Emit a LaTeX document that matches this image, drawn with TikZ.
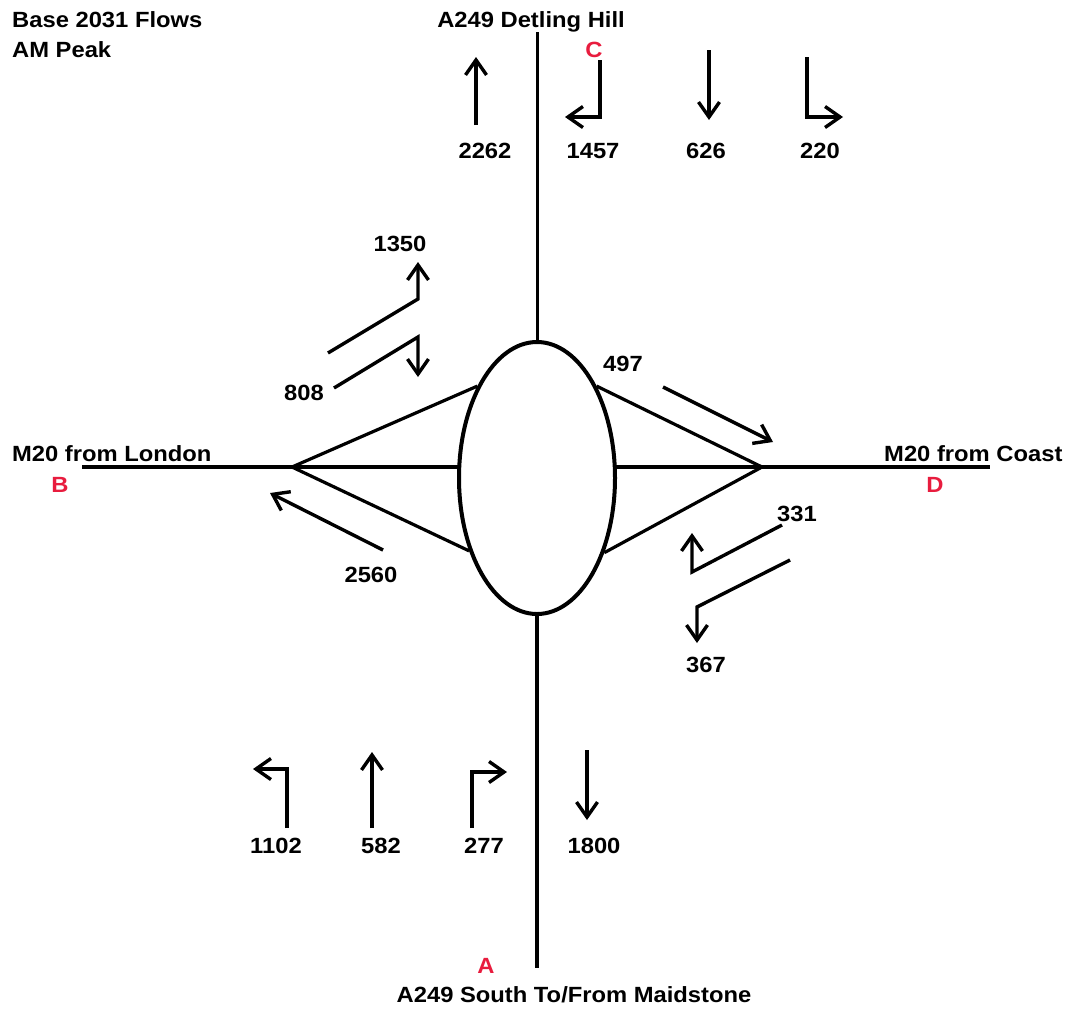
\documentclass[tikz,border=0pt]{standalone}
\usepackage{fontspec}
\setmainfont{Liberation Sans}[FakeStretch=1.08]
\usetikzlibrary{arrows.meta,shapes.geometric}
\definecolor{lblred}{RGB}{232,28,62}
\begin{document}
\begin{tikzpicture}[x=1pt,y=-1pt,
  txt/.style={inner sep=0pt,anchor=base,font=\fontsize{22}{26}\selectfont\bfseries},
  ltxt/.style={txt,anchor=base west},
  rtxt/.style={txt,text=lblred},
  road/.style={line width=4.4pt},
  thinroad/.style={line width=3pt},
  slip/.style={line width=3.2pt},
  flow/.style={line width=3.4pt,line join=miter,-{Straight Barb[length=15pt,width=21pt]}}]
\useasboundingbox (0,0) rectangle (1073,1013);
% roundabout
\node[ellipse,draw,line width=4pt,minimum width=156pt,minimum height=272pt,inner sep=0pt] (ell) at (537,478) {};
% named road ends
\coordinate (nTop) at (537,32);
\coordinate (nBot) at (537,968);
\coordinate (wEnd) at (82,467);
\coordinate (eEnd) at (990,467);
\coordinate (wEll) at (459,467);
\coordinate (eEll) at (615,467);
\coordinate (wJ) at (292,467);
\coordinate (eJ) at (762,467);
% roads
\draw[thinroad] (nTop) -- (ell.north);
\draw[road] (ell.south) -- (nBot);
\draw[road] (wEnd) -- (wEll);
\draw[road] (eEll) -- (eEnd);
\draw[slip] (wJ) -- (ell.123);
\draw[slip] (wJ) -- (ell.227);
\draw[slip] (eJ) -- (ell.57);
\draw[slip] (eJ) -- (ell.312);
% flow arrows top
\draw[flow] (476,125) -- (476,57);
\draw[flow] (600,60) -- (600,117) -- (565,117);
\draw[flow] (709,50) -- (709,120);
\draw[flow] (807,57) -- (807,117) -- (843,117);
% left
\draw[flow] (328,353) -- (418,299) -- (418,262);
\draw[flow] (334,388) -- (418,337) -- (418,377);
\draw[flow] (383,550) -- (270,493);
% right
\draw[flow] (663,387) -- (773,442);
\draw[flow] (782,525) -- (692,572) -- (692,533);
\draw[flow] (790,560) -- (697,607) -- (697,643);
% bottom
\draw[flow] (287,828) -- (287,769) -- (253,769);
\draw[flow] (372,828) -- (372,752);
\draw[flow] (472,828) -- (472,772) -- (507,772);
\draw[flow] (587,750) -- (587,820);
% titles
\node[ltxt] (t1) at (12,27) {Base 2031 Flows};
\node[ltxt] (t2) at (12,57) {AM Peak};
\node[txt] (rdN) at (531,27) {A249 Detling Hill};
\node[ltxt] (rdW) at (12,461) {M20 from London};
\node[ltxt] (rdE) at (884,461) {M20 from Coast};
\node[txt] (rdS) at (574,1002) {A249 South To/From Maidstone};
\node[rtxt] (lA) at (486,973) {A};
\node[rtxt] (lB) at (60,492) {B};
\node[rtxt] (lC) at (594,57) {C};
\node[rtxt] (lD) at (935,492) {D};
% flow numbers
\node[txt] (f1) at (485,158) {2262};
\node[txt] (f2) at (593,158) {1457};
\node[txt] (f3) at (706,158) {626};
\node[txt] (f4) at (820,158) {220};
\node[txt] (f5) at (400,251) {1350};
\node[txt] (f6) at (304,400) {808};
\node[txt] (f7) at (371,582) {2560};
\node[txt] (f8) at (623,371) {497};
\node[txt] (f9) at (797,521) {331};
\node[txt] (f10) at (706,672) {367};
\node[txt] (f11) at (276,853) {1102};
\node[txt] (f12) at (381,853) {582};
\node[txt] (f13) at (484,853) {277};
\node[txt] (f14) at (594,853) {1800};
\end{tikzpicture}
\end{document}
